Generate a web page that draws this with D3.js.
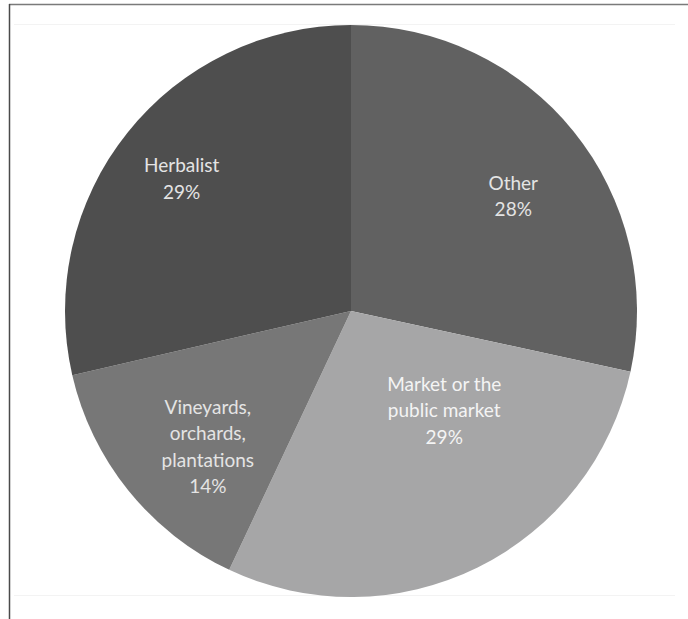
<!DOCTYPE html>
<html>
<head>
<meta charset="utf-8">
<script src="https://d3js.org/d3.v7.min.js"></script>
<style>
  html, body { margin: 0; padding: 0; background: #fff; }
  svg { display: block; }
  .lbl { font-family: Lato, "Open Sans", sans-serif; font-size: 19px; }
</style>
</head>
<body>
<div id="chart"></div>
<script>
  // data (percent shares, clockwise from 12 o'clock)
  var categories = ["Other", "Market or the public market", "Vineyards, orchards, plantations", "Herbalist"];
  var values = [28.4, 28.6, 14.4, 28.6];
  // how each label is broken into lines, as in the original
  var labelLines = [["Other"], ["Market or the", "public market"], ["Vineyards,", "orchards,", "plantations"], ["Herbalist"]];

  var width = 688, height = 619;
  var cx = 351, cy = 311, radius = 286;

  var colors = d3.scaleOrdinal()
    .domain(categories)
    .range(["#616161", "#a6a6a7", "#777777", "#4e4e4e"]);

  // label placement (Excel "best fit"): distance from centre and angle nudge in degrees
  var labelRadius = d3.scaleOrdinal().domain(categories).range([199, 136, 197, 215]);
  var labelNudge = d3.scaleOrdinal().domain(categories).range([3.5, -17, -4.5, -0.5]);

  var svg = d3.select("#chart").append("svg")
    .attr("width", width)
    .attr("height", height);

  // frame around the picture
  svg.append("line").attr("x1", 9).attr("x2", width).attr("y1", 4.5).attr("y2", 4.5)
    .attr("stroke", "#7a7a7a").attr("stroke-width", 1.5);
  svg.append("line").attr("x1", 9.5).attr("x2", 9.5).attr("y1", 4).attr("y2", height)
    .attr("stroke", "#4a4a4a").attr("stroke-width", 1.5);
  // very faint plot area edges
  svg.append("line").attr("x1", 14).attr("x2", 675).attr("y1", 24.5).attr("y2", 24.5)
    .attr("stroke", "#f3f3f3");
  svg.append("line").attr("x1", 14).attr("x2", 675).attr("y1", 595.5).attr("y2", 595.5)
    .attr("stroke", "#f3f3f3");

  var g = svg.append("g").attr("transform", "translate(" + cx + "," + cy + ")");

  var pie = d3.pie().sort(null).value(function(d) { return d.value; });
  var data = categories.map(function(c, i) { return {name: c, value: values[i], lines: labelLines[i]}; });
  var arcs = pie(data);

  var arc = d3.arc().innerRadius(0).outerRadius(radius);

  g.selectAll("path.slice")
    .data(arcs)
    .enter()
    .append("path")
      .attr("class", "slice")
      .attr("d", arc)
      .attr("fill", function(d) { return colors(d.data.name); });

  var lineH = 26.5;
  var labels = g.selectAll("text.lbl")
    .data(arcs)
    .enter()
    .append("text")
      .attr("class", "lbl")
      .attr("text-anchor", "middle")
      .attr("fill", function(d) { return d.data.name === "Market or the public market" ? "#f4f4f4" : "#e4e4e4"; })
      .attr("transform", function(d) {
        var r = labelRadius(d.data.name);
        var a = (d.startAngle + d.endAngle) / 2 + labelNudge(d.data.name) * Math.PI / 180;
        return "translate(" + (r * Math.sin(a)) + "," + (-r * Math.cos(a)) + ")";
      });

  labels.each(function(d) {
    var t = d3.select(this);
    var lines = d.data.lines.concat([Math.round(d.data.value) + "%"]);
    var top = -(lines.length - 1) * lineH / 2 + 7;
    lines.forEach(function(s, i) {
      t.append("tspan").attr("x", 0).attr("y", top + i * lineH).text(s);
    });
  });
</script>
</body>
</html>
